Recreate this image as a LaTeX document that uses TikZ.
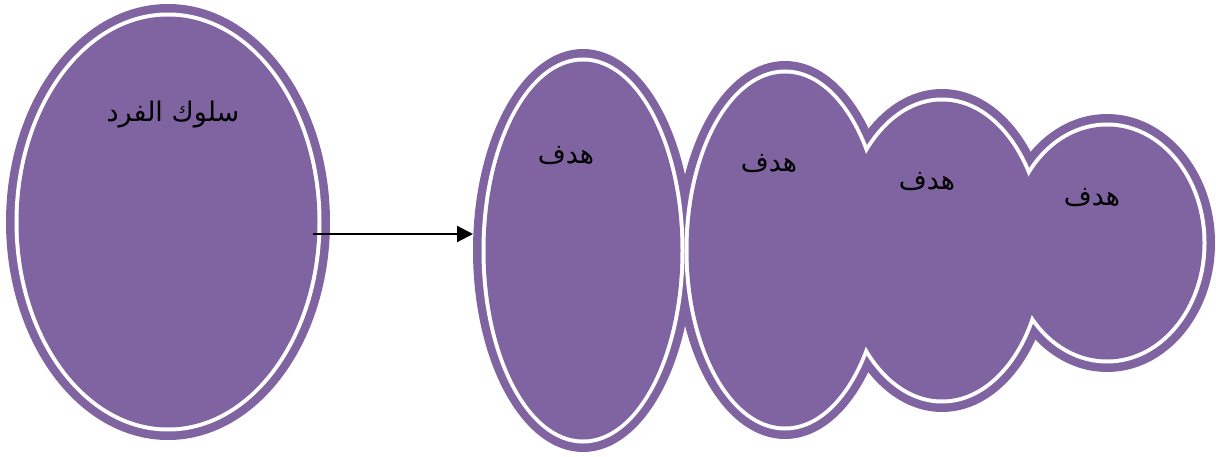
\documentclass[tikz,border=0pt]{standalone}
\usepackage{fontspec}
\usetikzlibrary{shapes.geometric,arrows.meta}
\newfontfamily\arabicfont[Script=Arabic]{DejaVu Sans}
\TeXXeTstate=1
\definecolor{evpurple}{RGB}{128,100,162}
\begin{document}
\begin{tikzpicture}[x=1pt,y=-1pt,
  ellbase/.style={ellipse, inner sep=0pt, outer sep=0pt, draw=none},
  outerell/.style={ellbase, fill=evpurple},
  ringell/.style={ellbase, fill=white},
  innerell/.style={ellbase, fill=evpurple},
  txtar/.style={font=\arabicfont\fontsize{27}{32}\selectfont, text=black, inner sep=0pt},
  txtgoal/.style={font=\arabicfont\fontsize{27}{32}\selectfont, text=black, inner sep=0pt},
  conn/.style={line width=2.2pt, -{Triangle[length=16pt,width=16pt]}}]
\useasboundingbox (0,0) rectangle (1216,457);
\def\elllist{big/168/222/162/218, g1/583/250.5/110/201.5, g2/785/250/109/189, g3/942/250.5/112/161.5, g4/1107/243/108/129}
% outer purple layer
\foreach \n/\cx/\cy/\rx/\ry in \elllist
  \node[outerell, minimum width=2*\rx*1pt, minimum height=2*\ry*1pt] (\n) at (\cx,\cy) {};
% white ring layer
\foreach \n/\cx/\cy/\rx/\ry in \elllist
  \node[ringell, minimum width=2*\rx*1pt-17pt, minimum height=2*\ry*1pt-17pt] (\n-w) at (\n.center) {};
% inner purple layer
\foreach \n/\cx/\cy/\rx/\ry in \elllist
  \node[innerell, minimum width=2*\rx*1pt-25pt, minimum height=2*\ry*1pt-25pt] (\n-i) at (\n.center) {};
% connector
\coordinate (a0) at (313,234);
\draw[conn] (a0) -- (a0 -| g1.west);
% texts
\node[txtar] (t0) at (173,115) {\beginR سلوك الفرد\endR};
\node[txtgoal] (t1) at (566,156) {\beginR هدف\endR};
\node[txtgoal] (t2) at (769,164) {\beginR هدف\endR};
\node[txtgoal] (t3) at (927,182) {\beginR هدف\endR};
\node[txtgoal] (t4) at (1092,198) {\beginR هدف\endR};
\end{tikzpicture}
\end{document}
